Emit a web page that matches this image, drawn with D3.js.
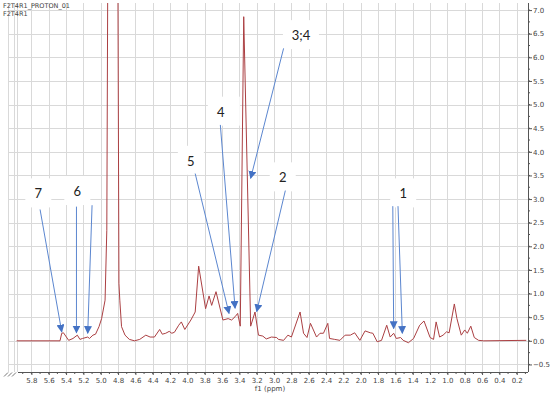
<!DOCTYPE html>
<html>
<head>
<meta charset="utf-8">
<script src="https://cdn.jsdelivr.net/npm/d3@7"></script>
<style>
  body { margin: 0; background: #fff; }
  svg { display: block; }
</style>
</head>
<body>
<div id="chart"></div>
<script>
// spectrum (ppm, intensity)
var ppm = [5.97, 5.47, 5.45, 5.43, 5.37, 5.32, 5.27, 5.24, 5.21, 5.15, 5.13, 5.09, 5.06, 5.02, 4.99,
  4.95, 4.93, 4.91, 4.86, 4.81, 4.79, 4.78, 4.76, 4.72, 4.67, 4.61, 4.55, 4.48, 4.43, 4.38,
  4.32, 4.29, 4.25, 4.21, 4.18, 4.15, 4.10, 4.07, 4.03, 3.96, 3.91, 3.87, 3.79, 3.75, 3.72,
  3.67, 3.59, 3.53, 3.49, 3.45, 3.42, 3.39, 3.35, 3.27, 3.22, 3.18, 3.13, 3.09, 3.03, 2.97,
  2.95, 2.89, 2.84, 2.80, 2.70, 2.66, 2.62, 2.58, 2.51, 2.47, 2.43, 2.38, 2.36, 2.30, 2.24,
  2.18, 2.12, 2.07, 2.01, 1.95, 1.89, 1.86, 1.81, 1.76, 1.70, 1.66, 1.62, 1.59, 1.54, 1.51,
  1.45, 1.39, 1.32, 1.27, 1.20, 1.16, 1.13, 1.09, 1.05, 1.01, 0.98, 0.92, 0.89, 0.84, 0.80,
  0.77, 0.73, 0.69, 0.64, 0.58, 0.09];
var intensity = [0, 0, 0.16, 0.17, 0.01, 0.05, 0.12, 0.03, 0.05, 0.08, 0.05, 0.12, 0.14, 0.30, 0.47,
  0.86, 2.34, 12, 40, 12, 1.22, 0.86, 0.30, 0.12, 0.03, 0, 0.03, 0.12, 0.08, 0.08,
  0.24, 0.14, 0.16, 0.20, 0.16, 0.18, 0.33, 0.40, 0.24, 0.44, 0.61, 1.58, 0.68, 0.95, 0.75,
  1.04, 0.44, 0.47, 0.44, 0.51, 0.58, 0.31, 6.86, 0.31, 0.61, 0.12, 0.10, 0.04, 0.08, 0.07,
  0.03, 0.01, 0.12, 0.08, 0.61, 0.16, 0.07, 0.37, 0.08, 0.16, 0.16, 0.37, 0.05, 0.03, 0.01,
  0.12, 0.12, 0.17, 0.01, 0.21, 0.17, 0.16, -0.02, 0.01, 0.33, 0.08, 0.16, 0.05, 0.07, 0.01,
  -0.04, 0.05, 0.33, 0.42, 0.07, 0.03, 0.40, 0.08, 0.12, 0.19, 0.17, 0.78, 0.47, 0.12, 0.23,
  0.16, 0.31, 0.07, 0.01, 0, 0.01];

// callouts: label position and arrows (start -> tip), in ppm / intensity
var labels = [
  { text: "7",   x: 5.72, y: 3.12, w: 26, arrows: [[5.70, 2.78, 5.45, 0.19]] },
  { text: "6",   x: 5.27, y: 3.17, w: 26, arrows: [[5.28, 2.84, 5.28, 0.17], [5.10, 2.87, 5.15, 0.16]] },
  { text: "5",   x: 3.96, y: 3.81, w: 26, arrows: [[3.91, 3.54, 3.52, 0.58]] },
  { text: "4",   x: 3.58, y: 4.85, w: 32, arrows: [[3.62, 4.57, 3.45, 0.69]] },
  { text: "3;4", x: 2.69, y: 6.47, w: 36, arrows: [[2.89, 6.19, 3.27, 3.44]] },
  { text: "2",   x: 2.90, y: 3.46, w: 26, arrows: [[2.87, 3.18, 3.20, 0.62]] },
  { text: "1",   x: 1.51, y: 3.12, w: 26, arrows: [[1.63, 2.85, 1.62, 0.26], [1.57, 2.85, 1.52, 0.16]] }
];

var xTicks = d3.range(2, 59, 2).map(function (d) { return d / 10; });
var xMinor = d3.range(1, 60, 1).map(function (d) { return d / 10; });
var yTicks = d3.range(-1, 15).map(function (d) { return d / 2; });
var yMinor = d3.range(-2, 29).map(function (d) { return d / 4; });

var W = 550, H = 394;
var pLeft = 8, pRight = 528, pTop = 3, pBottom = 372;

var svg = d3.select('#chart').append('svg')
  .attr('width', W)
  .attr('height', H);

var x = d3.scaleLinear().domain([6.07, 0.07]).range([pLeft, pRight]);
var y = d3.scaleLinear().domain([-0.66, 7.15]).range([pBottom, pTop]);

var grid = '#d9d9d9', ink = '#555';

// grid
svg.append('g').selectAll('line').data(xTicks.concat([6.0])).enter().append('line')
  .attr('x1', function (d) { return Math.round(x(d)) + 0.5; })
  .attr('x2', function (d) { return Math.round(x(d)) + 0.5; })
  .attr('y1', pTop).attr('y2', pBottom)
  .attr('stroke', grid).attr('stroke-width', 1);
svg.append('g').selectAll('line').data(yTicks).enter().append('line')
  .attr('x1', pLeft).attr('x2', pRight)
  .attr('y1', function (d) { return Math.round(y(d)) + 0.5; })
  .attr('y2', function (d) { return Math.round(y(d)) + 0.5; })
  .attr('stroke', grid).attr('stroke-width', 1);
// left frame + break lines
[pLeft, pLeft + 9].forEach(function (px) {
  svg.append('line').attr('x1', px + 0.5).attr('x2', px + 0.5).attr('y1', pTop).attr('y2', pBottom)
    .attr('stroke', grid);
});

// spectrum
svg.append('clipPath').attr('id', 'clip').append('rect')
  .attr('x', pLeft).attr('y', pTop).attr('width', pRight - pLeft).attr('height', pBottom - pTop);

var pts = ppm.map(function (p, i) { return [p, intensity[i]]; });
var line = d3.line()
  .x(function (d) { return x(d[0]); })
  .y(function (d) { return y(d[1]); });

svg.append('path').datum(pts)
  .attr('clip-path', 'url(#clip)')
  .attr('d', line)
  .attr('fill', 'none')
  .attr('stroke', '#ab3f42')
  .attr('stroke-width', 1)
  .attr('stroke-linejoin', 'round');

// right axis
var yAxis = d3.axisRight(y).tickValues(yTicks).tickSize(4)
  .tickFormat(function (d) { return d3.format('.1f')(d).replace('-', '\u2212'); });
var gy = svg.append('g').attr('transform', 'translate(' + pRight + ',0)').call(yAxis);
gy.append('g').selectAll('line').data(yMinor).enter().append('line')
  .attr('x1', 0).attr('x2', 2)
  .attr('y1', function (d) { return y(d); }).attr('y2', function (d) { return y(d); })
  .attr('stroke', ink);
gy.select('.domain').attr('d', 'M0.5,' + pTop + 'V' + pBottom).attr('stroke', ink);
gy.selectAll('.tick line').attr('stroke', ink);
gy.selectAll('.tick text').attr('x', 5).attr('fill', '#444')
  .style('font', '7px "DejaVu Sans"');

// bottom axis
var xAxis = d3.axisBottom(x).tickValues(xTicks).tickSize(3).tickFormat(d3.format('.1f'));
var gx = svg.append('g').attr('transform', 'translate(0,' + pBottom + ')').call(xAxis);
gx.append('g').selectAll('line').data(xMinor).enter().append('line')
  .attr('x1', function (d) { return x(d); }).attr('x2', function (d) { return x(d); })
  .attr('y1', 0).attr('y2', 2)
  .attr('stroke', ink);
gx.select('.domain').attr('d', 'M' + (pLeft + 10) + ',0.5H' + pRight).attr('stroke', ink);
gx.selectAll('.tick line').attr('stroke', ink);
gx.selectAll('.tick text').attr('y', 6).attr('fill', '#444')
  .style('font', '7px "DejaVu Sans"');
// axis break marks
[4, 8, 12].forEach(function (px) {
  gx.append('line').attr('x1', px).attr('y1', 4.5).attr('x2', px + 4).attr('y2', 0.5)
    .attr('stroke', ink).attr('stroke-width', 0.8);
});

svg.append('text').attr('x', 270).attr('y', 391).attr('text-anchor', 'middle')
  .attr('fill', '#444').style('font', '7px "DejaVu Sans"').text('f1 (ppm)');

// titles
svg.append('text').attr('x', 3).attr('y', 8).attr('fill', '#444')
  .style('font', '6.5px "DejaVu Sans"').text('F2T4R1_PROTON_01');
svg.append('text').attr('x', 3).attr('y', 16).attr('fill', '#444')
  .style('font', '6.5px "DejaVu Sans"').text('F2T4R1');

// callouts
var defs = svg.append('defs');
defs.append('marker').attr('id', 'head')
  .attr('viewBox', '0 0 10 10').attr('refX', 9).attr('refY', 5)
  .attr('markerWidth', 8).attr('markerHeight', 8).attr('markerUnits', 'userSpaceOnUse')
  .attr('orient', 'auto')
  .append('path').attr('d', 'M0,0L10,5L0,10Z').attr('fill', '#4472c4');

var blue = '#5b86cf';
var g = svg.append('g');
labels.forEach(function (l) {
  g.append('rect')
    .attr('x', x(l.x) - l.w / 2).attr('y', y(l.y) - 15)
    .attr('width', l.w).attr('height', 29)
    .attr('fill', '#fff');
});
labels.forEach(function (l) {
  l.arrows.forEach(function (a) {
    g.append('line')
      .attr('x1', x(a[0])).attr('y1', y(a[1]))
      .attr('x2', x(a[2])).attr('y2', y(a[3]))
      .attr('stroke', blue).attr('stroke-width', 1)
      .attr('marker-end', 'url(#head)');
  });
  g.append('text')
    .attr('x', x(l.x) - (l.text === '4' ? 3 : 0)).attr('y', y(l.y) + 5)
    .attr('text-anchor', 'middle')
    .attr('fill', '#222')
    .style('font', '13px Lato')
    .text(l.text);
});
</script>
</body>
</html>
